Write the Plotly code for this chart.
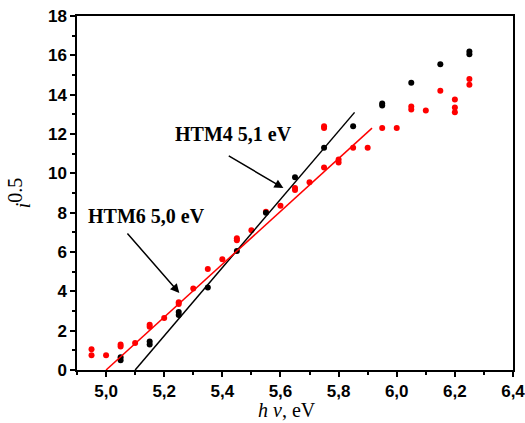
import plotly.graph_objects as go

# Photoemission yield data, square root of current vs photon energy
htm4_x = [5.05, 5.05, 5.15, 5.15, 5.25, 5.25, 5.35, 5.45, 5.55, 5.65, 5.75, 5.85,
          5.95, 5.95, 6.05, 6.15, 6.25, 6.25]
htm4_y = [0.65, 0.5, 1.45, 1.3, 2.95, 2.8, 4.2, 6.05, 8.0, 9.8, 11.3, 12.4,
          13.55, 13.45, 14.6, 15.55, 16.05, 16.2]

htm6_x = [4.95, 4.95, 5.0, 5.05, 5.05, 5.1, 5.15, 5.15, 5.2, 5.25, 5.25, 5.3, 5.35,
          5.4, 5.45, 5.45, 5.5, 5.55, 5.6, 5.65, 5.65, 5.7, 5.75, 5.75, 5.75, 5.8,
          5.8, 5.85, 5.9, 5.95, 6.0, 6.05, 6.05, 6.1, 6.15, 6.2, 6.2, 6.2, 6.25, 6.25]
htm6_y = [1.05, 0.75, 0.75, 1.3, 1.2, 1.37, 2.3, 2.2, 2.65, 3.45, 3.35, 4.15, 5.13,
          5.63, 6.7, 6.6, 7.1, 8.05, 8.35, 9.25, 9.15, 9.55, 10.3, 12.4, 12.3, 10.7,
          10.55, 11.3, 11.3, 12.3, 12.3, 13.4, 13.25, 13.2, 14.2, 13.75, 13.35, 13.1,
          14.8, 14.5]

# Linear fits extrapolated to the energy axis (ionization potential)
htm4_fit_x = [5.10, 5.855]
htm4_fit_y = [0.0, 13.1]
htm6_fit_x = [5.00, 5.915]
htm6_fit_y = [0.0, 12.3]

x_ticks = [5.0, 5.2, 5.4, 5.6, 5.8, 6.0, 6.2, 6.4]
y_ticks = [0, 2, 4, 6, 8, 10, 12, 14, 16, 18]

fig = go.Figure()
fig.add_trace(go.Scatter(x=htm6_x, y=htm6_y, mode="markers",
                         marker=dict(color="#ff0000", size=6), showlegend=False))
fig.add_trace(go.Scatter(x=htm4_x, y=htm4_y, mode="markers",
                         marker=dict(color="#000000", size=6), showlegend=False))
fig.add_trace(go.Scatter(x=htm4_fit_x, y=htm4_fit_y, mode="lines",
                         line=dict(color="#000000", width=1.5), showlegend=False))
fig.add_trace(go.Scatter(x=htm6_fit_x, y=htm6_fit_y, mode="lines",
                         line=dict(color="#ff0000", width=1.5), showlegend=False))

label_font = dict(family="Liberation Serif", size=20, color="black", weight="bold")
fig.add_annotation(x=5.438, y=12.0, xref="x", yref="y", text="HTM4 5,1 eV",
                   showarrow=False, font=label_font)
fig.add_annotation(x=5.138, y=7.83, xref="x", yref="y", text="HTM6 5,0 eV",
                   showarrow=False, font=label_font)
fig.add_annotation(x=5.61, y=9.25, ax=5.417, ay=10.93, xref="x", yref="y",
                   axref="x", ayref="y", text="", showarrow=True,
                   arrowhead=2, arrowsize=1.2, arrowwidth=1.5, arrowcolor="black")
fig.add_annotation(x=5.252, y=3.91, ax=5.069, ay=7.02, xref="x", yref="y",
                   axref="x", ayref="y", text="", showarrow=True,
                   arrowhead=2, arrowsize=1.2, arrowwidth=1.5, arrowcolor="black")

# x-axis title, placed slightly left of the plot centre
fig.add_annotation(x=0.482, y=-0.112, xref="paper", yref="paper",
                   text="<i>h ν</i>, eV", showarrow=False, yanchor="middle",
                   font=dict(family="Liberation Serif", size=20, color="black"))

tick_font = dict(family="Liberation Sans", size=17, color="black", weight="bold")
axis_common = dict(showline=True, linecolor="black", linewidth=1.5, mirror=True,
                   ticks="outside", ticklen=5, tickwidth=1.5, tickcolor="black",
                   showgrid=False, zeroline=False, tickfont=tick_font,
                   automargin=False, ticklabeloverflow="allow")

fig.update_xaxes(range=[4.9, 6.4], tickvals=x_ticks, tickformat=".1f",
                 minor=dict(dtick=0.1, ticks="outside", ticklen=3, tickwidth=1.5,
                            tickcolor="black", tick0=4.9),
                 **axis_common)
fig.update_yaxes(range=[0, 18], tickvals=y_ticks,
                 minor=dict(dtick=1, ticks="outside", ticklen=3, tickwidth=1.5,
                            tickcolor="black"),
                 title=dict(text="<i>i</i><sup><span style='font-size:20px'>0.5</span></sup>",
                            standoff=12,
                            font=dict(family="Liberation Serif", size=20, color="black")),
                 **axis_common)

fig.update_layout(width=525, height=423, separators=", ",
                  margin=dict(l=77, r=12, t=16, b=53),
                  plot_bgcolor="white", paper_bgcolor="white")

fig.write_html("out.html")
